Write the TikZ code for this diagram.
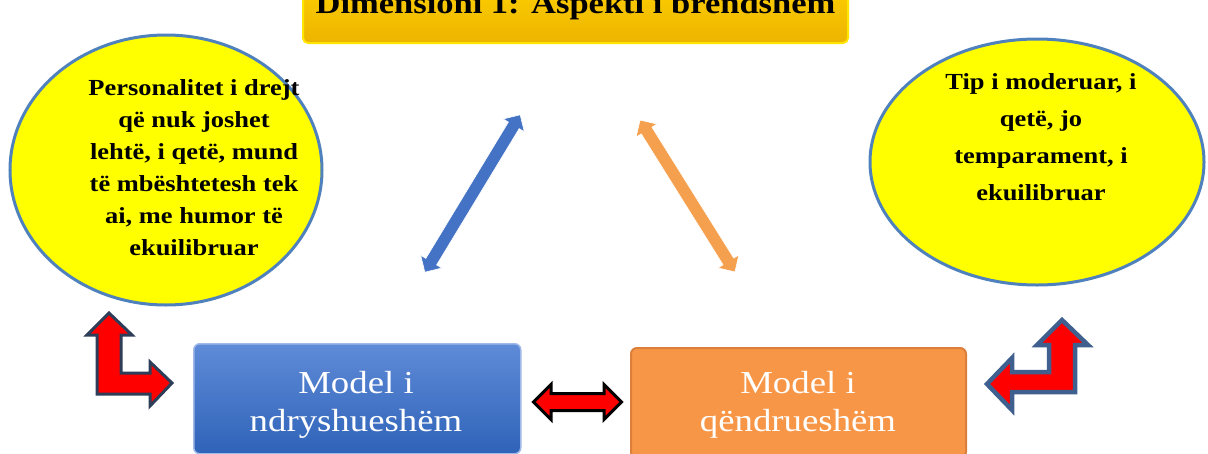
\documentclass[tikz,border=0pt]{standalone}
\usepackage{fontspec}
\setmainfont{Liberation Serif}[FakeStretch=1.15]
\usetikzlibrary{shapes.arrows,shapes.geometric}
\definecolor{ellfill}{HTML}{FFFF00}
\definecolor{ellline}{HTML}{4F81BD}
\definecolor{bluetop}{HTML}{5F8BD8}
\definecolor{bluebot}{HTML}{2F63B8}
\definecolor{orfill}{HTML}{F79646}
\definecolor{orline}{HTML}{DC7F3A}
\definecolor{goldtop}{HTML}{FFD400}
\definecolor{goldbot}{HTML}{EDB400}
\definecolor{arrblue}{HTML}{4472C4}
\definecolor{arrorange}{HTML}{F5A04E}
\definecolor{lborder}{HTML}{2E3E58}
\definecolor{rborder}{HTML}{3F5F8E}
\tikzset{
  bubble/.style={ellipse, draw=ellline, line width=3pt, fill=ellfill, align=center, inner sep=0pt},
  bubbletext/.style={font=\bfseries\fontsize{23}{32}\selectfont, align=center, text=black},
  modelbox/.style={rounded corners=6pt, minimum height=110pt},
  modeltext/.style={text=white, font=\fontsize{32}{38}\selectfont, align=center},
  diagarrow/.style={double arrow, minimum width=24pt, inner xsep=0pt, inner ysep=6pt,
    double arrow head extend=6pt, draw=white, line width=0.6pt},
  bigarrow/.style={fill=red, line join=miter},
}
\begin{document}
\begin{tikzpicture}[x=1pt,y=-1pt]
\useasboundingbox (0,0) rectangle (1208,453);
% title
\node[draw=goldtop!60!yellow, line width=2pt, rounded corners=5pt, top color=goldtop, bottom color=goldbot,
  minimum width=545pt, minimum height=70pt, anchor=south] (title) at (575.5,44) {};
\node[font=\bfseries\fontsize{30}{32}\selectfont, anchor=base] (titletext) at (575.5,13) {Dimensioni 1: Aspekti i brendshëm};
% ellipses
\node[bubble, minimum width=312pt, minimum height=270pt] (left) at (166,170) {};
\node[bubbletext] (lefttext) at (194,168) {Personalitet i drejt\\që nuk joshet\\lehtë, i qetë, mund\\të mbështetesh tek\\ai, me humor të\\ekuilibruar};
\node[bubble, minimum width=334pt, minimum height=246pt] (right) at (1037,162) {};
\node[bubbletext, font=\bfseries\fontsize{23}{37}\selectfont] (righttext) at (1041,137) {Tip i moderuar, i\\qetë, jo\\temparament, i\\ekuilibruar};
% boxes
\node[modelbox, draw=bluetop!60!white, line width=1.5pt, top color=bluetop, bottom color=bluebot,
  minimum width=327pt, anchor=north west] (blue) at (193,343) {};
\node[modeltext] (bluetext) at (356,405) {Model i\\ndryshueshëm};
\node[modelbox, draw=orline, line width=2pt, fill=orfill,
  minimum width=335pt, anchor=north west] (orange) at (630,347) {};
\node[modeltext] (orangetext) at (798,405) {Model i\\qëndrueshëm};
% diagonal double arrows
\node[diagarrow, fill=arrblue, minimum height=184pt, rotate=58.8] (barrow) at (472.5,193.5) {};
\node[diagarrow, fill=arrorange, minimum height=179pt, rotate=-58] (oarrow) at (687.5,196) {};
% middle double arrow
\node[double arrow, fill=red, draw=black, line width=3pt, minimum height=88pt, minimum width=34pt,
  inner xsep=0pt, inner ysep=7pt, double arrow head extend=9pt] (mid) at (577.5,402) {};
% left L arrow
\draw[bigarrow, draw=lborder, line width=3pt] (109,313) -- (132,335) -- (121,335) -- (121,373) -- (150,373)
  -- (150,362) -- (172,383) -- (150,406) -- (150,394) -- (97,394) -- (97,335) -- (87,335) -- cycle;
% right L arrow
\draw[bigarrow, draw=rborder, line width=4.5pt] (1062,320) -- (1088,345) -- (1075,345) -- (1075,392) -- (1012,392)
  -- (1012,410) -- (987,384) -- (1012,358) -- (1012,372) -- (1049,372) -- (1049,345) -- (1037,345) -- cycle;
\end{tikzpicture}
\end{document}
